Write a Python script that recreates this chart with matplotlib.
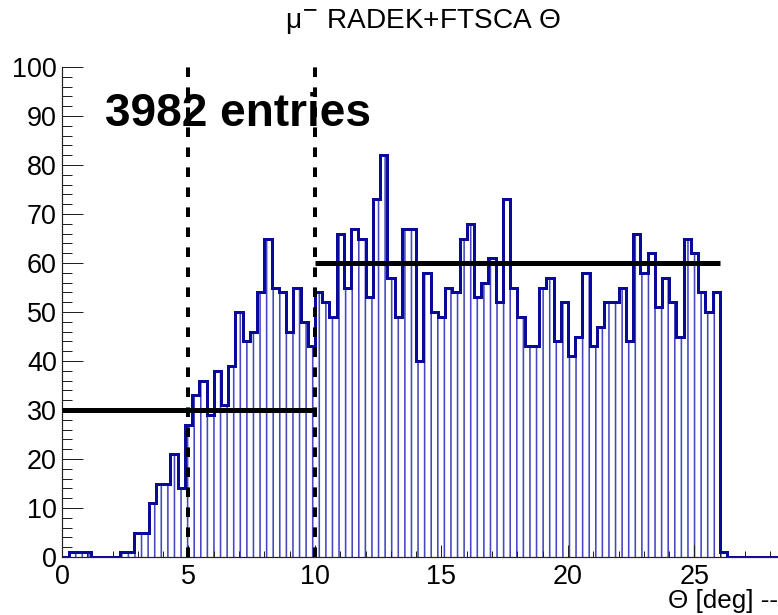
import numpy as np
import matplotlib
matplotlib.use("Agg")
from matplotlib import pyplot as plt
from matplotlib.ticker import MultipleLocator

W, H, DPI = 779, 615, 79
PT = 72.0 / DPI  # pixel -> point

plt.rcParams['font.family'] = ['Liberation Sans', 'DejaVu Sans']
plt.rcParams['hatch.linewidth'] = 1.6 * PT

# 105 bins of 2/7 deg between 0 and 30 deg
bin_edges = np.linspace(0, 30, 106)
counts = [0, 1, 1, 1, 0, 0, 0, 0, 1, 1,
          5, 5, 11, 15, 15, 21, 14, 27, 33, 36,
          29, 38, 31, 39, 50, 44, 46, 54, 65, 55,
          54, 46, 55, 48, 43, 54, 52, 49, 66, 55,
          67, 65, 53, 73, 82, 57, 49, 67, 67, 40,
          58, 50, 49, 55, 54, 65, 68, 53, 56, 61,
          52, 73, 55, 49, 43, 43, 55, 57, 44, 52,
          41, 45, 58, 43, 47, 52, 52, 55, 44, 66,
          58, 62, 51, 57, 52, 45, 65, 62, 54, 50,
          54, 1]
counts = np.array(counts + [0] * (105 - len(counts)))

cut_theta = [5, 10]
level_start = [0, 10]
level_stop = [10, 26]
level_value = [30, 60]
n_entries = 3982

fig = plt.figure(figsize=(W / DPI, H / DPI), dpi=DPI)
ax = fig.add_axes([62 / W, 1 - 557 / H, 1 - 62 / W, (557 - 67) / H])

line_blue = '#0a0a9a'
fill_blue = '#4646c0'

ax.stairs(counts, bin_edges, fill=True, facecolor='none', edgecolor=fill_blue,
          hatch='||', linewidth=0, zorder=1)
ax.stairs(counts, bin_edges, color=line_blue, linewidth=3 * PT, zorder=2)

for x in cut_theta:
    ax.axvline(x, color='k', linewidth=4 * PT, linestyle=(0, (2.4, 2.6)), zorder=3)
for a, b, v in zip(level_start, level_stop, level_value):
    ax.hlines(v, a, b, color='k', linewidth=5 * PT, zorder=3)

ax.text(1.7, 88, f"{n_entries} entries", fontsize=46 * PT, fontweight='bold',
        ha='left', va='baseline', zorder=4)

ax.set_xlim(0, (779 - 62) / 25.3)
ax.set_ylim(0, 100)
ax.xaxis.set_major_locator(MultipleLocator(5))
ax.xaxis.set_minor_locator(MultipleLocator(1))
ax.yaxis.set_major_locator(MultipleLocator(10))
ax.yaxis.set_minor_locator(MultipleLocator(2))
ax.tick_params(axis='both', which='both', direction='in', labelsize=27 * PT,
               width=1 * PT, colors='#222222', labelcolor='k')
ax.tick_params(axis='y', which='major', length=21 * PT, pad=5 * PT)
ax.tick_params(axis='y', which='minor', length=10 * PT)
ax.tick_params(axis='x', which='major', length=12 * PT, pad=7 * PT)
ax.tick_params(axis='x', which='minor', length=6 * PT)
ax.spines['top'].set_visible(False)
ax.spines['right'].set_visible(False)
for s in ['left', 'bottom']:
    ax.spines[s].set_linewidth(1.2 * PT)
    ax.spines[s].set_color('#222222')

fig.text(423 / W, 1 - 22 / H, "μ$^{-}$ RADEK+FTSCA Θ", ha='center', va='center',
         fontsize=28 * PT)
fig.text(668 / W, 1 - 601 / H, "Θ [deg] --", ha='left', va='center',
         fontsize=26 * PT)

fig.savefig("out.png", dpi=DPI)
